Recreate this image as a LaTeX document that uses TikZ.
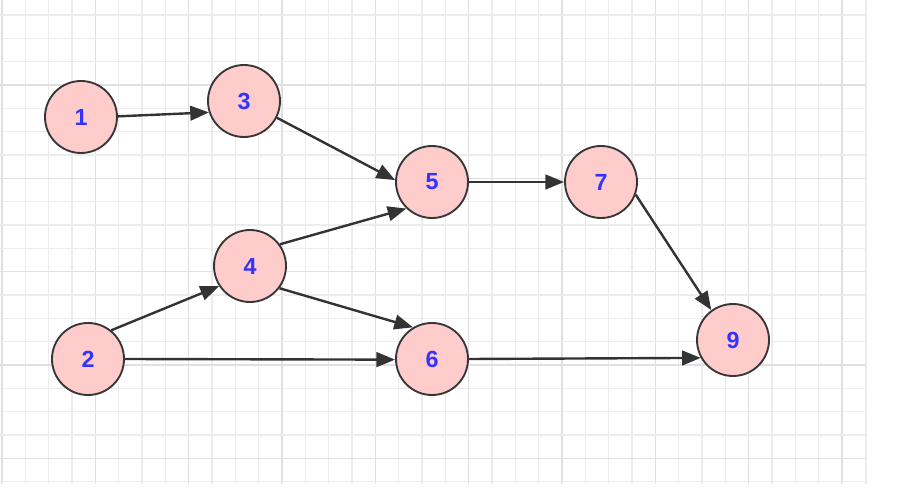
\documentclass[tikz,border=0pt]{standalone}
\usepackage{fontspec}
\setmainfont{Liberation Sans}
\usetikzlibrary{arrows.meta}
\definecolor{gridminor}{RGB}{236,236,236}
\definecolor{gridmajor}{RGB}{224,224,224}
\definecolor{nodefill}{RGB}{255,204,204}
\definecolor{nodeline}{RGB}{54,54,54}
\definecolor{labelblue}{RGB}{51,51,255}
\definecolor{edgecol}{RGB}{51,51,51}
\tikzset{
  vert/.style={circle, draw=nodeline, fill=nodefill, line width=1.4pt,
    minimum size=54pt, inner sep=0pt, text=labelblue,
    font=\fontsize{17.5}{17.5}\selectfont\bfseries},
  edge/.style={draw=edgecol, line width=1.8pt,
    -{Triangle[length=14pt,width=11pt]}},
}
\begin{document}
\begin{tikzpicture}[x=0.75pt,y=-0.75pt]
\useasboundingbox (0,0) rectangle (902,491);
\fill[white] (0,0) rectangle (902,491);
% grid
\foreach \k in {0,...,37} {
  \pgfmathsetmacro{\xx}{2+23.333*\k}
  \pgfmathtruncatemacro{\m}{mod(\k,4)}
  \ifnum\m=0
    \draw[gridmajor, line width=0.9pt] (\xx,0) -- (\xx,484);
  \else
    \draw[gridminor, line width=0.8pt] (\xx,0) -- (\xx,484);
  \fi
}
\foreach \k in {0,...,20} {
  \pgfmathsetmacro{\yy}{15+23.333*\k}
  \pgfmathtruncatemacro{\m}{mod(\k,4)}
  \ifnum\m=3
    \draw[gridmajor, line width=0.9pt] (0,\yy) -- (866,\yy);
  \else
    \draw[gridminor, line width=0.8pt] (0,\yy) -- (866,\yy);
  \fi
}
\draw[gridminor, line width=0.8pt] (866,0) -- (866,484);
% nodes
\node[vert] (n1) at (81,117) {1};
\node[vert] (n3) at (244,101) {3};
\node[vert] (n5) at (432,182) {5};
\node[vert] (n7) at (601,182) {7};
\node[vert] (n2) at (88,359) {2};
\node[vert] (n4) at (250,266) {4};
\node[vert] (n6) at (432,359) {6};
\node[vert] (n9) at (733,340) {9};
% edges
\draw[edge] (n1.1) -- (n3.198);
\draw[edge] (n3.-27) -- (n5.177);
\draw[edge] (n5.east) -- (n7.west);
\draw[edge] (n7.-20) -- (n9.126);
\draw[edge] (n2.51) -- (n4.213);
\draw[edge] (n2.east) -- (n6.181);
\draw[edge] (n4.36) -- (n5.226);
\draw[edge] (n4.-37) -- (n6.121);
\draw[edge] (n6.east) -- (n9.209);
\end{tikzpicture}
\end{document}
